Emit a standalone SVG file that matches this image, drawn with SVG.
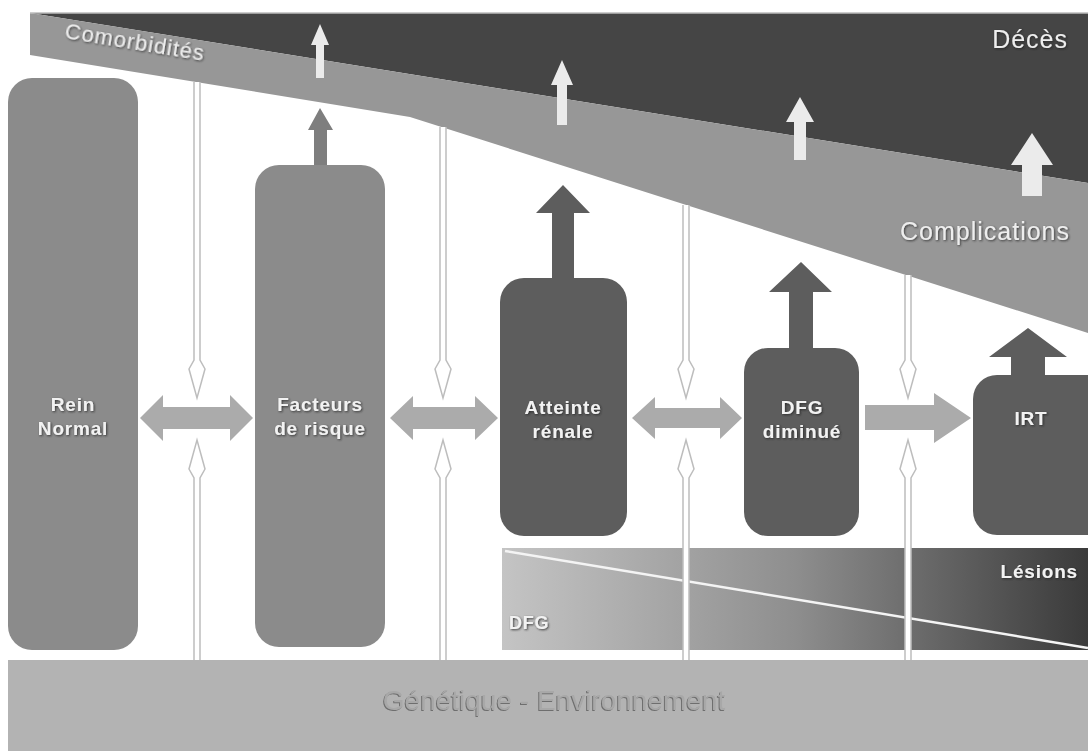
<svg xmlns="http://www.w3.org/2000/svg" width="1088" height="751" viewBox="0 0 1088 751">
<defs>
<style>
.lbl{font-family:"Liberation Sans",Arial,sans-serif;font-weight:bold;font-size:19px;letter-spacing:0.8px;fill:#f2f2f2;text-anchor:middle}
.big{font-family:"Liberation Sans",Arial,sans-serif;font-size:25px;letter-spacing:1px;fill:#eeeeee}
.end{text-anchor:end}
.start{text-anchor:start}
.thin{fill:#ffffff;stroke:#bdbdbd;stroke-width:1.5}
.harrow{fill:#ababab}
.wup{fill:#ebebeb}
.med{fill:#8b8b8b}
.dark{fill:#5d5d5d}
</style>
<filter id="sh" x="-10%" y="-30%" width="130%" height="160%">
<feDropShadow dx="1" dy="1" stdDeviation="0.8" flood-color="#222" flood-opacity="0.8"/>
</filter>
<filter id="emb" x="-10%" y="-30%" width="130%" height="160%">
<feDropShadow dx="-1" dy="1" stdDeviation="0.4" flood-color="#666" flood-opacity="0.9"/>
</filter>
<linearGradient id="grad" x1="0" y1="0" x2="1" y2="0">
<stop offset="0" stop-color="#c4c4c4"/>
<stop offset="0.5" stop-color="#8e8e8e"/>
<stop offset="1" stop-color="#3a3a3a"/>
</linearGradient>
</defs>
<rect width="1088" height="751" fill="#ffffff"/>

<g id="bands">
<polygon points="30,13 1088,13 1088,183" fill="#454545"/>
<polygon points="30,13 1088,183 1088,333 410,117 30,55" fill="#979797"/>
<line x1="30" y1="13" x2="1088" y2="13" stroke="#bdbdbd" stroke-width="1.5"/>
<text class="big" transform="translate(64,38) rotate(9.3)" style="font-size:22px" filter="url(#sh)">Comorbidités</text>
<text class="big end" x="1068" y="48" filter="url(#sh)">Décès</text>
<text class="big end" x="1070" y="240" filter="url(#sh)">Complications</text>
<path class="wup" d="M320,24 L329,45 L324,45 L324,78 L316,78 L316,45 L311,45 Z"/>
<path class="wup" d="M562,60 L573,85 L567,85 L567,125 L557,125 L557,85 L551,85 Z"/>
<path class="wup" d="M800,97 L814,122 L806,122 L806,160 L794,160 L794,122 L786,122 Z"/>
<path class="wup" d="M1032,133 L1053,165 L1042,165 L1042,196 L1022,196 L1022,165 L1011,165 Z"/>
</g>

<g id="panel">
<rect x="502" y="548" width="586" height="102" fill="url(#grad)"/>
<line x1="505" y1="551" x2="1088" y2="648" stroke="#f4f4f4" stroke-width="2.5"/>
<text class="lbl end" x="1078" y="578" filter="url(#sh)">Lésions</text>
<text class="lbl start" x="509" y="629" style="font-size:18px" filter="url(#sh)">DFG</text>
</g>

<g id="genetique">
<rect x="8" y="660" width="1080" height="91" fill="#b3b3b3"/>
<text x="554" y="710" text-anchor="middle" font-family="Liberation Sans,Arial,sans-serif" font-size="28" fill="#a8a8a8" filter="url(#emb)">Génétique - Environnement</text>
</g>

<g id="connectors">
<path d="M320,108 L333,130 L327,130 L327,170 L314,170 L314,130 L308,130 Z" fill="#7e7e7e"/>
<path class="dark" d="M563,185 L590,213 L574,213 L574,282 L552,282 L552,213 L536,213 Z"/>
<path class="dark" d="M801,262 L832,292 L813,292 L813,352 L789,352 L789,292 L769,292 Z"/>
<path class="dark" d="M1028,328 L1067,357 L1045,357 L1045,380 L1011,380 L1011,357 L989,357 Z"/>
<path class="harrow" d="M140,418 L163,395 L163,407 L230,407 L230,395 L253,418 L230,441 L230,429 L163,429 L163,441 Z"/>
<path class="harrow" d="M390,418 L413,396 L413,407 L475,407 L475,396 L498,418 L475,440 L475,429 L413,429 L413,440 Z"/>
<path class="harrow" d="M632,418 L655,397 L655,408 L720,408 L720,397 L742,418 L720,439 L720,428 L655,428 L655,439 Z"/>
<path class="harrow" d="M865,405 L934,405 L934,393 L971,418 L934,443 L934,430 L865,430 Z"/>
<path class="thin" d="M194,82 L194,360 L189,369 L197,398 L205,369 L200,360 L200,82"/>
<path class="thin" d="M194,660 L194,478 L189,469 L197,440 L205,469 L200,478 L200,660"/>
<path class="thin" d="M440,127 L440,360 L435,369 L443,398 L451,369 L446,360 L446,127"/>
<path class="thin" d="M440,660 L440,478 L435,469 L443,440 L451,469 L446,478 L446,660"/>
<path class="thin" d="M683,205 L683,360 L678,369 L686,398 L694,369 L689,360 L689,205"/>
<path class="thin" d="M683,660 L683,478 L678,469 L686,440 L694,469 L689,478 L689,660"/>
<path class="thin" d="M905,275 L905,360 L900,369 L908,398 L916,369 L911,360 L911,275"/>
<path class="thin" d="M905,660 L905,478 L900,469 L908,440 L916,469 L911,478 L911,660"/>
</g>

<g id="rein">
<rect x="8" y="78" width="130" height="572" rx="24" class="med"/>
<text class="lbl" x="73" y="411" filter="url(#sh)">Rein</text>
<text class="lbl" x="73" y="435" filter="url(#sh)">Normal</text>
</g>
<g id="facteurs">
<rect x="255" y="165" width="130" height="482" rx="24" class="med"/>
<text class="lbl" x="320" y="411" filter="url(#sh)">Facteurs</text>
<text class="lbl" x="320" y="435" filter="url(#sh)">de risque</text>
</g>
<g id="atteinte">
<rect x="500" y="278" width="127" height="258" rx="24" class="dark"/>
<text class="lbl" x="563" y="414" filter="url(#sh)">Atteinte</text>
<text class="lbl" x="563" y="438" filter="url(#sh)">rénale</text>
</g>
<g id="dfg">
<rect x="744" y="348" width="115" height="188" rx="24" class="dark"/>
<text class="lbl" x="802" y="414" filter="url(#sh)">DFG</text>
<text class="lbl" x="802" y="438" filter="url(#sh)">diminué</text>
</g>
<g id="irt">
<rect x="973" y="375" width="140" height="160" rx="24" class="dark"/>
<text class="lbl" x="1031" y="425" filter="url(#sh)">IRT</text>
</g>
</svg>
